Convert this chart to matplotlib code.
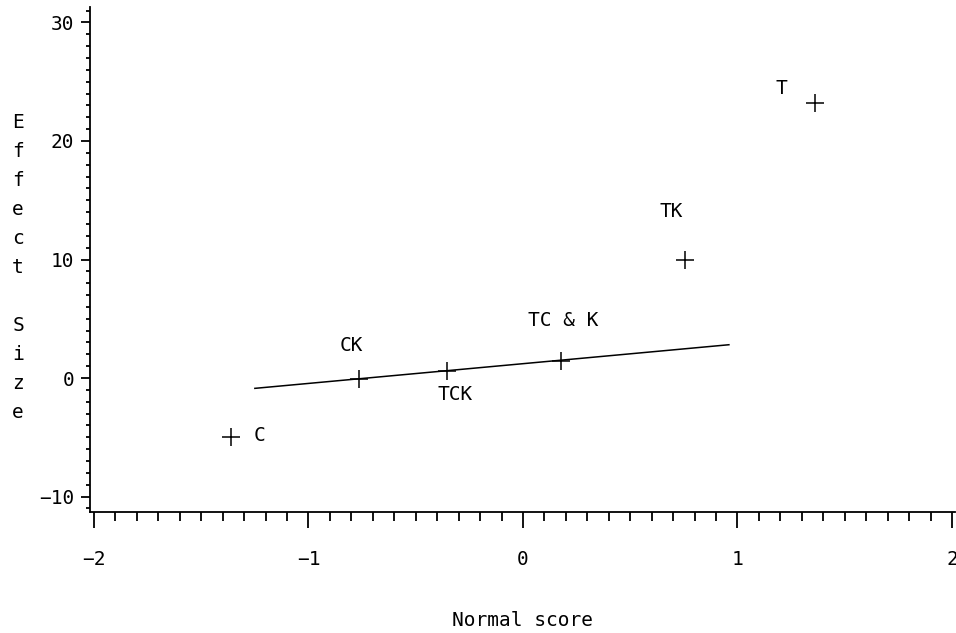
import matplotlib
matplotlib.use("Agg")
from matplotlib import pyplot as plt
from matplotlib.ticker import MultipleLocator

plt.rcParams['font.family'] = 'DejaVu Sans Mono'

# effects and their normal scores
labels = ["C", "CK", "TCK", "TC & K", "TK", "T"]
normal_score = [-1.36, -0.765, -0.355, 0.175, 0.755, 1.36]
effect = [-5.0, -0.1, 0.6, 1.45, 10.0, 23.2]

# where the label of each effect sits (data coords)
label_x = [-1.23, -0.80, -0.317, 0.188, 0.689, 1.203]
label_y = [-4.86, 2.72, -1.35, 4.83, 14.04, 24.43]

# fitted line through the small effects
fit_x = [-1.25, 0.96]
fit_y = [-0.87, 2.81]

ylabel = "Effect Size"

fig = plt.figure(figsize=(9.56, 6.33), dpi=100)
ax = fig.add_axes([90/956, 1 - 512/633, 865/956, 505/633])

ax.plot(fit_x, fit_y, color='black', lw=1.1)
ax.plot(normal_score, effect, '+', color='black', ms=13, mew=1.1)
for i in range(len(labels)):
    ax.text(label_x[i], label_y[i], labels[i], ha='center', va='center', fontsize=14)

ax.set_xlim(-2.0186, 2.014)
ax.set_ylim(-11.3, 31.3)
ax.set_xticks([-2, -1, 0, 1, 2])
ax.set_yticks([-10, 0, 10, 20, 30])
ax.xaxis.set_minor_locator(MultipleLocator(0.1))
ax.yaxis.set_minor_locator(MultipleLocator(1))
ax.set_xticklabels(["\u22122", "\u22121", "0", "1", "2"])
ax.set_yticklabels(["\u221210", "0", "10", "20", "30"])

for s in ['top', 'right']:
    ax.spines[s].set_visible(False)
for s in ['left', 'bottom']:
    ax.spines[s].set_linewidth(1.3)

ax.tick_params(axis='x', which='major', length=11.5, width=1.3, pad=16, labelsize=14)
ax.tick_params(axis='x', which='minor', length=6.5, width=1.3)
ax.tick_params(axis='y', which='major', length=6.5, width=1.3, pad=5, labelsize=14)
ax.tick_params(axis='y', which='minor', length=3.2, width=1.3)

fig.text(522/956, 1 - 621/633, "Normal score", ha='center', va='center', fontsize=14)

# stacked vertical axis title, one letter per line
for i, ch in enumerate(ylabel):
    fig.text(18/956, 1 - (123 + i*28.9)/633, ch, ha='center', va='center', fontsize=14)

fig.savefig("out.png", dpi=100)
